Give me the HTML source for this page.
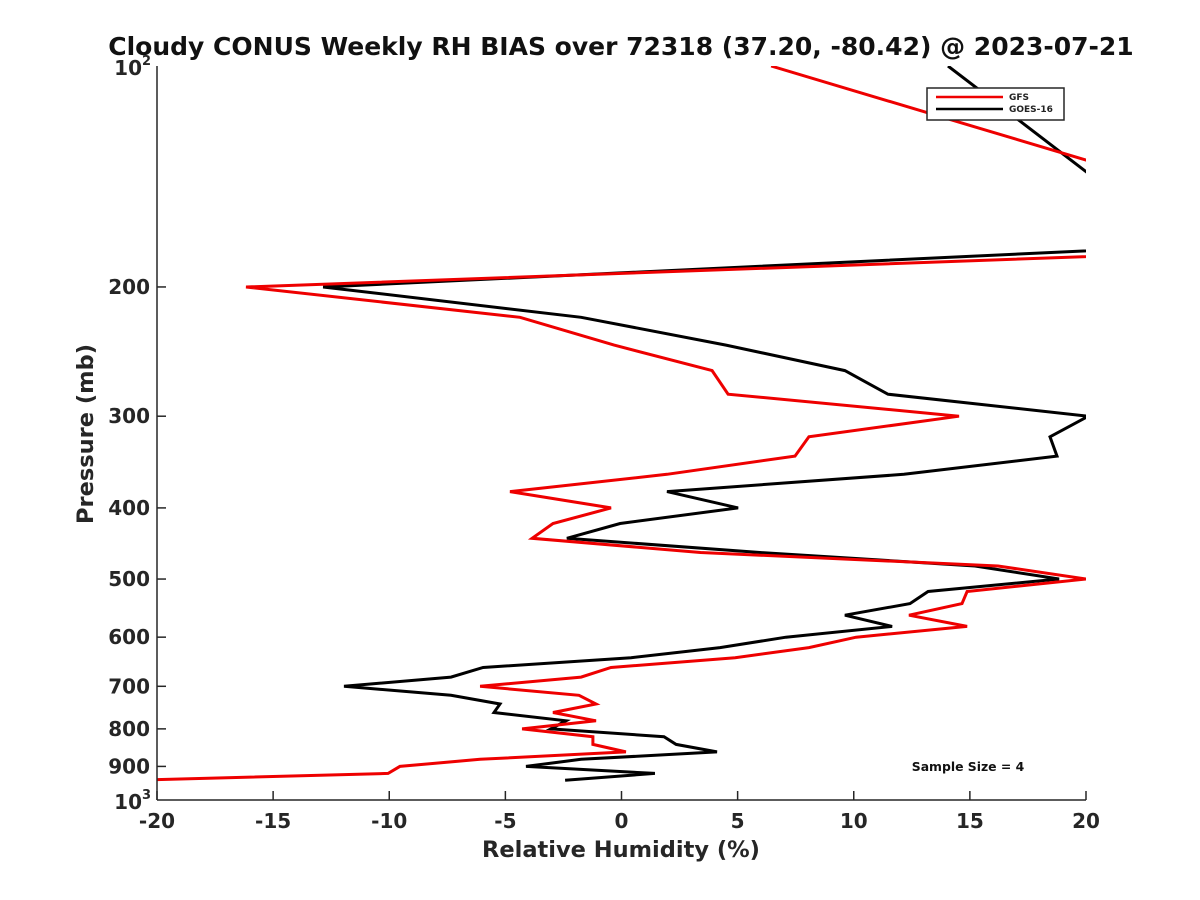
<!DOCTYPE html>
<html><head><meta charset="utf-8"><style>
html,body{margin:0;padding:0;background:#fff;}
svg{display:block;font-family:"DejaVu Sans","Liberation Sans",sans-serif;}
</style></head><body>
<svg id="chart" width="1200" height="900" viewBox="0 0 1200 900">
<text x="621" y="55" text-anchor="middle" font-size="25" font-weight="bold" fill="#111">Cloudy CONUS Weekly RH BIAS over 72318 (37.20, -80.42) @ 2023-07-21</text>
<defs><clipPath id="plotclip"><rect x="157" y="66" width="929" height="734"/></clipPath></defs>
<g id="series" clip-path="url(#plotclip)"></g>
<g id="axes"></g>
<text x="621" y="857" text-anchor="middle" font-size="22.5" font-weight="bold" fill="#262626">Relative Humidity (%)</text>
<text transform="translate(93,434) rotate(-90)" text-anchor="middle" font-size="22.5" font-weight="bold" fill="#262626">Pressure (mb)</text>
<g>
<rect x="927" y="88" width="137" height="32" fill="#fff" stroke="#262626" stroke-width="1.5"/>
<line x1="936" y1="97" x2="1003" y2="97" stroke="#e00" stroke-width="2.5"/>
<text x="1009" y="100" font-size="9" font-weight="bold" fill="#222">GFS</text>
<line x1="936" y1="109" x2="1003" y2="109" stroke="#000" stroke-width="2.5"/>
<text x="1009" y="112" font-size="9" font-weight="bold" fill="#222">GOES-16</text>
</g>
<text x="968" y="771" text-anchor="middle" font-size="12.4" font-weight="bold" fill="#111">Sample Size = 4</text>
</svg>
<script>
const pressGfs = [100,176,200,220,240,260,280,300,320,340,360,380,400,420,440,460,480,500,520,540,560,580,600,620,640,660,680,700,720,740,760,780,800,820,840,860,880,900,920,940];
const gfsValues = [6.44,32.4,-16.17,-4.37,-0.32,3.9,4.59,14.53,8.07,7.47,1.96,-4.8,-0.45,-2.95,-3.85,3.4,16.21,20,14.88,14.66,12.38,14.88,10.1,8.07,4.89,-0.45,-1.74,-6.09,-1.83,-1.1,-2.95,-1.1,-4.28,-1.23,-1.23,0.19,-6.09,-9.54,-10.05,-21];
const pressGoes = [100,176,200,220,240,260,280,300,320,340,360,380,400,420,440,460,480,500,520,540,560,580,600,620,640,660,680,700,720,740,760,780,800,820,840,860,880,900,920,940];
const goesValues = [14.06,24.2,-12.85,-1.74,4.5,9.62,11.47,20.1,18.45,18.75,12.16,1.96,5.02,-0.06,-2.35,5.96,15.22,18.84,13.2,12.42,9.62,11.65,7.08,4.24,0.41,-5.96,-7.34,-11.95,-7.34,-5.23,-5.49,-2.39,-3.04,1.83,2.35,4.11,-1.74,-4.11,1.44,-2.43];
const xTicks = [-20,-15,-10,-5,0,5,10,15,20];
const yTicks = [200,300,400,500,600,700,800,900];

const NS = "http://www.w3.org/2000/svg";
const X0=157, X1=1086, Y0=66, Y1=800;
function xs(v){ return X0 + (v+20)/40*(X1-X0); }
function ys(p){ return Y0 + Math.log10(p/100)*(Y1-Y0); }
function mk(tag, attrs, parent){ const e=document.createElementNS(NS,tag); for(const k in attrs) e.setAttribute(k,attrs[k]); parent.appendChild(e); return e; }

const series = document.getElementById('series');
function drawLine(ps, vs, color, name){
  const d = ps.map((p,i)=>(i?'L':'M')+xs(vs[i]).toFixed(1)+','+ys(p).toFixed(1)).join(' ');
  const el = mk('path',{d:d,fill:'none',stroke:color,'stroke-width':3,'stroke-linejoin':'miter'},series);
  
  
}
drawLine(pressGoes, goesValues, '#000', 'goes16-line');
drawLine(pressGfs, gfsValues, '#e00', 'gfs-line');

const axes = document.getElementById('axes');
const xa = mk('line',{x1:X0,y1:Y1,x2:X1,y2:Y1,stroke:'#262626','stroke-width':1.5},axes);


const ya = mk('line',{x1:X0,y1:Y0,x2:X0,y2:Y1,stroke:'#262626','stroke-width':1.5},axes);


xTicks.forEach(v=>{
  const x=xs(v);
  const t = mk('line',{x1:x,y1:Y1,x2:x,y2:Y1-9,stroke:'#262626','stroke-width':1.5},axes);
  
  
  const l = mk('text',{x:x,y:Y1+28,'text-anchor':'middle','font-size':20,'font-weight':'bold',fill:'#262626'},axes);
  l.textContent = String(v);
  
  
});
yTicks.forEach(p=>{
  const y=ys(p);
  const t = mk('line',{x1:X0,y1:y,x2:X0+9,y2:y,stroke:'#262626','stroke-width':1.5},axes);
  
  
  const l = mk('text',{x:X0-7,y:y+7,'text-anchor':'end','font-size':20,'font-weight':'bold',fill:'#262626'},axes);
  l.textContent = String(p);
  
  
});
[[100,'2'],[1000,'3']].forEach(([p,e])=>{
  const y=ys(p);
  const l = mk('text',{x:X0-15,y:y+9,'text-anchor':'end','font-size':20,'font-weight':'bold',fill:'#262626'},axes);
  l.textContent = '10';
  
  
  const s = mk('text',{x:X0-15,y:y-1,'text-anchor':'start','font-size':13,'font-weight':'bold',fill:'#262626'},axes);
  s.textContent = e;
  
  
});
</script>
</body></html>
